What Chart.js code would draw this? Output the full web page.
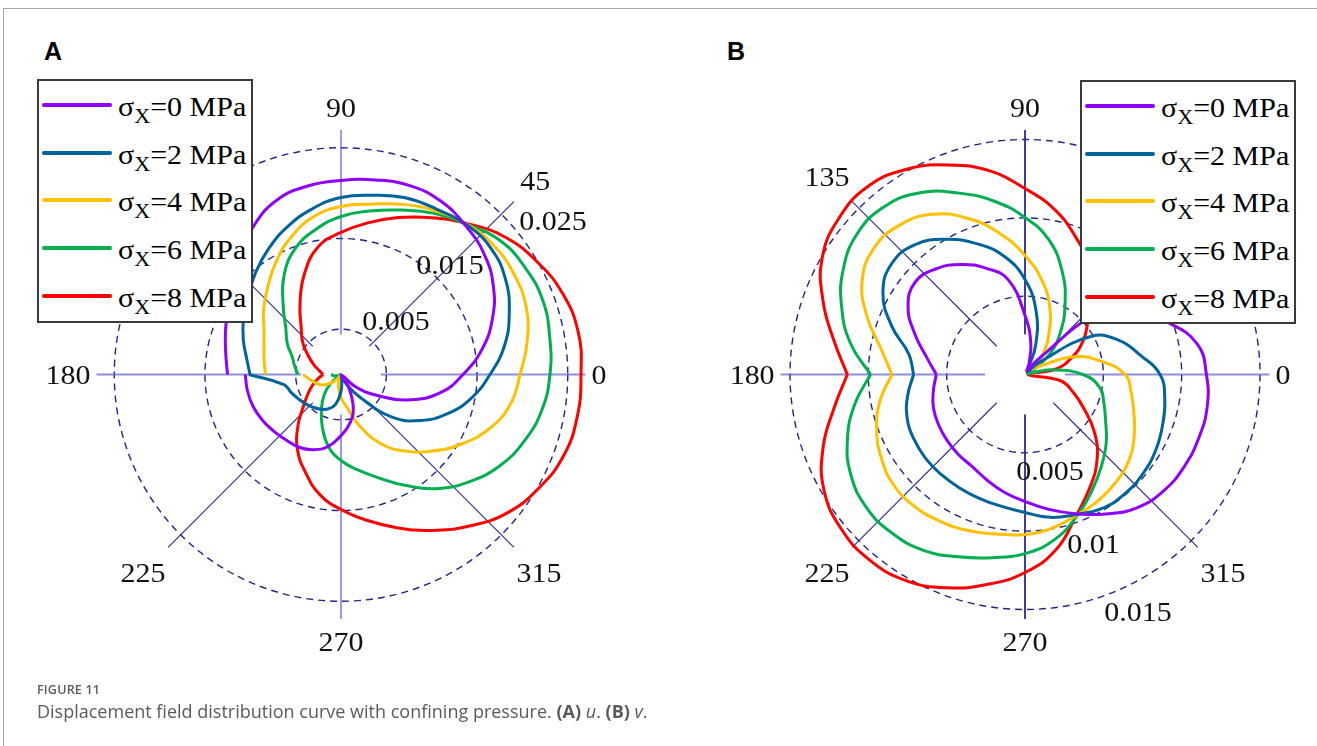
<!DOCTYPE html>
<html>
<head>
<meta charset="utf-8">
<title>Figure 11</title>
<script src="https://cdn.jsdelivr.net/npm/chart.js@4.4.1/dist/chart.umd.min.js"></script>
<style>
  html, body { margin: 0; padding: 0; background: #fff; }
  body { position: relative; width: 1317px; height: 746px; overflow: hidden; }
  #frame { position: absolute; left: 3px; top: 8px; width: 1320px; height: 745px; border-top: 1px solid #a8a8a8; border-left: 1px solid #a8a8a8; }
  canvas { position: absolute; }
  .panel { position: absolute; top: 37px; font: bold 25px "Liberation Sans", Arial, sans-serif; color: #000; }
  .legend { position: absolute; width: 216px; height: 244px; box-sizing: border-box; background: #fff;
            border: 2px solid #3a3a3a; z-index: 2; font-family: "Liberation Serif", serif; font-size: 27px; color: #000; }
  .legend .row { position: absolute; left: 0; right: 0; height: 38px; white-space: nowrap; }
  .legend .swatch { position: absolute; left: 3px; width: 70px; height: 4px; top: 17px; border-radius: 2px; }
  .legend .txt { position: absolute; left: 79px; top: 2px; line-height: 38px; transform: scaleX(1.11); transform-origin: 0 50%; }
  .legend sub { font-size: 20px; vertical-align: -7px; line-height: 0; }
  .cap { position: absolute; left: 37px; font-family: "Open Sans", "Noto Sans", sans-serif; color: #5a5a5a; white-space: nowrap; }
</style>
</head>
<body>
<div id="frame"></div>
<div class="panel" style="left:44px">A</div>
<div class="panel" style="left:727px">B</div>
<canvas id="chartA" width="658" height="640" style="left:0;top:60px"></canvas>
<canvas id="chartB" width="659" height="640" style="left:658px;top:60px"></canvas>
<div class="legend" id="legendA" style="left:37px;top:79px"></div>
<div class="legend" id="legendB" style="left:1080px;top:80px"></div>
<div class="cap" style="top:681px;font-size:12.5px;font-weight:600;letter-spacing:0.2px">FIGURE 11</div>
<div class="cap" style="top:699px;font-size:18px">Displacement field distribution curve with confining pressure. <b>(A)</b> <i>u</i>. <b>(B)</b> <i>v</i>.</div>
<script>
// polar angle (deg) of every sample, lower crack face (-180) round to upper face (180)
const ANGLES = [-180, -170, -160, -150, -140, -130, -120, -110, -100, -90, -80, -70, -60, -50, -40, -30, -20, -10,
  0, 10, 20, 30, 40, 50, 60, 70, 80, 90, 100, 110, 120, 130, 140, 150, 160, 170, 180];

const PRESSURES = ['0', '2', '4', '6', '8'];
const COLORS = ['#8f00ff', '#00649c', '#ffc000', '#00b050', '#ff0000'];

const ANGLE_TICKS = [0, 45, 90, 135, 180, 225, 270, 315];
const RINGS_A = [0.005, 0.015, 0.025];
const RINGS_B = [0.005, 0.01, 0.015];

// (A) displacement u
const U_0 = [0.01056, 0.01047, 0.01031, 0.01003, 0.00970, 0.00943, 0.00926, 0.00882, 0.00805, 0.00673, 0.00551, 0.00397,
  0.00176, 0.00011, 0.00209, 0.00463, 0.00816, 0.01125, 0.01345, 0.01577, 0.01775, 0.01940, 0.02062, 0.02139, 0.02205,
  0.02216, 0.02178, 0.02139, 0.02111, 0.02051, 0.01907, 0.01720, 0.01566, 0.01444, 0.01356, 0.01290, 0.01251];
const U_2 = [0.01014, 0.00639, 0.00584, 0.00540, 0.00507, 0.00474, 0.00441, 0.00402, 0.00331, 0.00187, 0.00044, 0.00006,
  0.00132, 0.00331, 0.00728, 0.01014, 0.01257, 0.01466, 0.01643, 0.01830, 0.01974, 0.02095, 0.02161, 0.02155, 0.02106,
  0.02073, 0.02007, 0.01951, 0.01852, 0.01731, 0.01599, 0.01466, 0.01334, 0.01240, 0.01147, 0.01058, 0.01003];
const U_4 = [0.00419, 0.00342, 0.00287, 0.00232, 0.00143, 0.00055, 0.00006, 0.00066, 0.00154, 0.00259, 0.00364, 0.00606,
  0.00882, 0.01103, 0.01312, 0.01533, 0.01742, 0.01896, 0.01974, 0.02084, 0.02172, 0.02205, 0.02205, 0.02161, 0.02084,
  0.01996, 0.01907, 0.01852, 0.01764, 0.01610, 0.01433, 0.01257, 0.01114, 0.00981, 0.00904, 0.00860, 0.00834];
const U_6 = [0.00110, 0.00077, 0.00039, 0.00006, 0.00143, 0.00287, 0.00430, 0.00606, 0.00805, 0.00948, 0.01069, 0.01213,
  0.01411, 0.01643, 0.01841, 0.02018, 0.02150, 0.02249, 0.02304, 0.02337, 0.02370, 0.02348, 0.02293, 0.02161, 0.02051,
  0.01929, 0.01830, 0.01742, 0.01621, 0.01477, 0.01257, 0.00992, 0.00794, 0.00684, 0.00573, 0.00518, 0.00474];
const U_8 = [0.00198, 0.00254, 0.00331, 0.00419, 0.00540, 0.00739, 0.00959, 0.01147, 0.01345, 0.01488, 0.01632, 0.01797,
  0.01985, 0.02183, 0.02381, 0.02514, 0.02613, 0.02646, 0.02646, 0.02657, 0.02602, 0.02492, 0.02359, 0.02172, 0.01996,
  0.01841, 0.01698, 0.01566, 0.01433, 0.01180, 0.00904, 0.00684, 0.00551, 0.00419, 0.00320, 0.00243, 0.00198];

// (B) displacement v
const V_0 = [0.00566, 0.00594, 0.00622, 0.00638, 0.00651, 0.00664, 0.00677, 0.00715, 0.00763, 0.00811, 0.00874, 0.00945,
  0.01028, 0.01111, 0.01155, 0.01174, 0.01181, 0.01181, 0.01158, 0.01117, 0.00970, 0.00798, 0.00606, 0.00115, 0.00026,
  0.00077, 0.00211, 0.00377, 0.00613, 0.00721, 0.00811, 0.00881, 0.00916, 0.00862, 0.00747, 0.00638, 0.00566];
const V_2 = [0.00711, 0.00760, 0.00801, 0.00820, 0.00830, 0.00833, 0.00836, 0.00843, 0.00855, 0.00881, 0.00926, 0.00951,
  0.00986, 0.00993, 0.00983, 0.00964, 0.00935, 0.00906, 0.00862, 0.00740, 0.00638, 0.00485, 0.00128, 0.00026, 0.00038,
  0.00198, 0.00409, 0.00606, 0.00766, 0.00887, 0.00996, 0.01085, 0.01107, 0.01047, 0.00906, 0.00753, 0.00711];
const V_4 = [0.00849, 0.00938, 0.01008, 0.01060, 0.01095, 0.01098, 0.01082, 0.01060, 0.01034, 0.01021, 0.00996, 0.00957,
  0.00932, 0.00900, 0.00862, 0.00804, 0.00740, 0.00689, 0.00638, 0.00491, 0.00332, 0.00109, 0.00057, 0.00185, 0.00306,
  0.00460, 0.00613, 0.00760, 0.00913, 0.01060, 0.01181, 0.01245, 0.01257, 0.01200, 0.01072, 0.00932, 0.00849];
const V_6 = [0.00986, 0.01104, 0.01206, 0.01283, 0.01321, 0.01321, 0.01296, 0.01238, 0.01187, 0.01143, 0.01072, 0.00964,
  0.00855, 0.00760, 0.00677, 0.00594, 0.00536, 0.00485, 0.00370, 0.00172, 0.00019, 0.00070, 0.00211, 0.00351, 0.00511,
  0.00696, 0.00874, 0.01002, 0.01123, 0.01232, 0.01340, 0.01398, 0.01398, 0.01340, 0.01245, 0.01130, 0.00986];
const V_8 = [0.01134, 0.01238, 0.01372, 0.01481, 0.01532, 0.01545, 0.01519, 0.01449, 0.01360, 0.01264, 0.01136, 0.00957,
  0.00830, 0.00715, 0.00581, 0.00434, 0.00326, 0.00230, 0.00019, 0.00198, 0.00319, 0.00428, 0.00523, 0.00651, 0.00811,
  0.00938, 0.01072, 0.01187, 0.01321, 0.01423, 0.01513, 0.01564, 0.01551, 0.01494, 0.01372, 0.01238, 0.01134];

const LABEL_FONT = '28px "Liberation Serif"';

function drawLabel(ctx, txt, x, y) {
  ctx.save();
  ctx.translate(x, y + 9.5);
  ctx.scale(1.07, 1);
  ctx.fillText(txt, 0, 0);
  ctx.restore();
}

// draws the dashed rings, the spokes and their labels behind the curves
function polarGrid(cfg) {
  return {
    id: 'polarGrid',
    beforeDatasetsDraw(chart) {
      const { ctx, scales: { x, y } } = chart;
      const cx = x.getPixelForValue(0), cy = y.getPixelForValue(0);
      const rad = (v) => x.getPixelForValue(v) - cx;
      ctx.save();

      ctx.strokeStyle = '#23238c';
      ctx.lineWidth = 1.4;
      ctx.setLineDash([7, 5]);
      cfg.rings.forEach((v) => {
        ctx.beginPath();
        ctx.arc(cx, cy, rad(v), 0, Math.PI * 2);
        ctx.stroke();
      });
      ctx.setLineDash([]);

      const r0 = rad(cfg.hole), r1 = rad(cfg.rMax);
      ctx.font = LABEL_FONT;
      ctx.textAlign = 'center';
      ctx.textBaseline = 'alphabetic';
      ctx.fillStyle = '#111';
      ANGLE_TICKS.forEach((a) => {
        const t = a * Math.PI / 180, c = Math.cos(t), s = Math.sin(t);
        const axis = a % 90 === 0;
        ctx.strokeStyle = axis ? cfg.axisColor(a) : '#2a2a8c';
        ctx.lineWidth = axis ? 1.8 : 1.1;
        ctx.beginPath();
        ctx.moveTo(cx + r0 * c, cy - r0 * s);
        ctx.lineTo(cx + r1 * c, cy - r1 * s);
        ctx.stroke();

        const txt = String(a);
        const w = ctx.measureText(txt).width * 1.07, h = 19;
        const pad = a % 180 === 0 ? 6 : 13;
        const d = r1 + pad + Math.abs(c) * w / 2 + Math.abs(s) * h / 2;
        drawLabel(ctx, txt, cx + d * c, cy - d * s);
      });

      cfg.rings.forEach((v, i) => {
        const [a, d] = cfg.ringLabelAt[i];
        const t = a * Math.PI / 180;
        drawLabel(ctx, String(v), cx + d * Math.cos(t), cy - d * Math.sin(t));
      });
      ctx.restore();
    }
  };
}

function makePolar(id, cfg) {
  const canvas = document.getElementById(id);
  const W = canvas.width, H = canvas.height, k = cfg.pxPerUnit;
  const datasets = cfg.series.map((vals, i) => ({
    label: 'σX=' + PRESSURES[i] + ' MPa',
    data: ANGLES.map((a, j) => {
      const t = a * Math.PI / 180;
      return { x: vals[j] * Math.cos(t), y: vals[j] * Math.sin(t) };
    }),
    showLine: true,
    borderColor: COLORS[i],
    borderWidth: 3,
    pointRadius: 0,
    tension: 0.45,
    fill: false
  }));
  return new Chart(canvas, {
    type: 'scatter',
    data: { datasets },
    options: {
      responsive: false,
      animation: false,
      events: [],
      layout: { padding: 0 },
      scales: {
        x: { type: 'linear', display: false, bounds: 'data', min: -cfg.cx / k, max: (W - cfg.cx) / k },
        y: { type: 'linear', display: false, bounds: 'data', min: -(H - cfg.cy) / k, max: cfg.cy / k }
      },
      plugins: { legend: { display: false }, tooltip: { enabled: false } }
    },
    plugins: [polarGrid(cfg)]
  });
}

function buildLegend(id) {
  const box = document.getElementById(id);
  PRESSURES.forEach((p, i) => {
    const row = document.createElement('div');
    row.className = 'row';
    row.style.top = (5 + 47.7 * i) + 'px';
    row.innerHTML = '<span class="swatch" style="background:' + COLORS[i] + '"></span>' +
      '<span class="txt">σ<sub>X</sub>=' + p + ' MPa</span>';
    box.appendChild(row);
  });
}

makePolar('chartA', {
  series: [U_0, U_2, U_4, U_6, U_8],
  rings: RINGS_A,
  ringLabelAt: [[44.5, 77], [45.3, 155], [36, 262]],
  pxPerUnit: 9070, cx: 341, cy: 314.5,
  hole: 0.0044, rMax: 0.02696,
  axisColor: () => 'rgba(95,95,200,0.7)'
});

makePolar('chartB', {
  series: [V_0, V_2, V_4, V_6, V_8],
  rings: RINGS_B,
  ringLabelAt: [[-75.4, 99], [-67.9, 182], [-64.5, 262.6]],
  pxPerUnit: 15667, cx: 367, cy: 314.5,
  hole: 0.00255, rMax: 0.0156,
  axisColor: (a) => (a % 180 === 0 ? 'rgba(95,95,200,0.7)' : '#2a2a8c')
});

buildLegend('legendA');
buildLegend('legendB');
</script>
</body>
</html>
